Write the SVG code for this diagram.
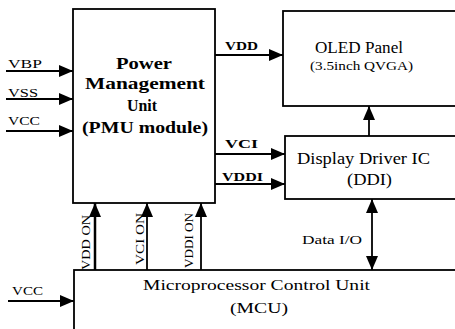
<svg xmlns="http://www.w3.org/2000/svg" width="455" height="329" viewBox="0 0 455 329">
<defs>
<marker id="ah" markerUnits="userSpaceOnUse" markerWidth="14" markerHeight="12" refX="14" refY="6" orient="auto-start-reverse">
<path d="M0,0 L14,6 L0,12 z" fill="#000"/>
</marker>
<style>
.box{fill:#fff;stroke:#000;stroke-width:1.8}
.ln{stroke:#000;stroke-width:1.8;fill:none}
.ar{stroke:#000;stroke-width:1.8;fill:none;marker-end:url(#ah)}
.t{font-family:"Liberation Serif","Times New Roman",serif;fill:#000}
.b{font-weight:bold}
</style>
</defs>
<rect width="455" height="329" fill="#fff"/>
<g id="pmu">
<rect class="box" x="73" y="9" width="142" height="194"/>
<text class="t b" x="144" y="69" font-size="17" text-anchor="middle" textLength="56" lengthAdjust="spacingAndGlyphs">Power</text>
<text class="t b" x="145" y="89" font-size="17" text-anchor="middle" textLength="120" lengthAdjust="spacingAndGlyphs">Management</text>
<text class="t b" x="142" y="111" font-size="17" text-anchor="middle" textLength="30" lengthAdjust="spacingAndGlyphs">Unit</text>
<text class="t b" x="145" y="133" font-size="17" text-anchor="middle" textLength="126" lengthAdjust="spacingAndGlyphs">(PMU module)</text>
</g>
<g id="oled">
<rect class="box" x="283" y="11" width="180" height="95"/>
<text class="t" x="315" y="53" font-size="16" textLength="88" lengthAdjust="spacingAndGlyphs">OLED Panel</text>
<text class="t" x="310" y="70" font-size="13" textLength="103" lengthAdjust="spacingAndGlyphs">(3.5inch QVGA)</text>
</g>
<g id="ddi">
<rect class="box" x="285" y="136" width="180" height="63"/>
<text class="t" x="297" y="164" font-size="16" textLength="133" lengthAdjust="spacingAndGlyphs">Display Driver IC</text>
<text class="t" x="347" y="185" font-size="16" textLength="45" lengthAdjust="spacingAndGlyphs">(DDI)</text>
</g>
<g id="mcu">
<rect class="box" x="74" y="270" width="400" height="80"/>
<text class="t" x="143" y="290" font-size="15" textLength="227" lengthAdjust="spacingAndGlyphs">Microprocessor Control Unit</text>
<text class="t" x="230" y="313" font-size="15" textLength="58" lengthAdjust="spacingAndGlyphs">(MCU)</text>
</g>
<g id="connectors">
<line class="ar" x1="6" y1="71" x2="73" y2="71"/>
<line class="ar" x1="6" y1="99" x2="73" y2="99"/>
<line class="ar" x1="6" y1="131" x2="73" y2="131"/>
<line class="ar" x1="8" y1="301" x2="74" y2="301"/>
<line class="ar" x1="215" y1="55" x2="283" y2="55"/>
<line class="ar" x1="215" y1="154" x2="285" y2="154"/>
<line class="ar" x1="215" y1="184" x2="285" y2="184"/>
<line class="ar" x1="369" y1="136" x2="369" y2="106"/>
<line class="ar" x1="372" y1="199" x2="372" y2="270" style="marker-start:url(#ah)"/>
<line class="ar" x1="95" y1="270" x2="95" y2="203" style="stroke-width:2.5"/>
<line class="ar" x1="147" y1="270" x2="147" y2="203"/>
<line class="ar" x1="201" y1="270" x2="201" y2="203"/>
</g>
<g id="labels">
<text class="t" x="8" y="68" font-size="13" textLength="34" lengthAdjust="spacingAndGlyphs">VBP</text>
<text class="t" x="8" y="97" font-size="13" textLength="30" lengthAdjust="spacingAndGlyphs">VSS</text>
<text class="t" x="8" y="125" font-size="13" textLength="32" lengthAdjust="spacingAndGlyphs">VCC</text>
<text class="t" x="12" y="295" font-size="13" textLength="31" lengthAdjust="spacingAndGlyphs">VCC</text>
<text class="t b" x="225" y="50" font-size="13" textLength="33" lengthAdjust="spacingAndGlyphs">VDD</text>
<text class="t b" x="225" y="148" font-size="13" textLength="33" lengthAdjust="spacingAndGlyphs">VCI</text>
<text class="t b" x="222" y="181" font-size="13" textLength="41" lengthAdjust="spacingAndGlyphs">VDDI</text>
<text class="t" x="302" y="244" font-size="13" textLength="60" lengthAdjust="spacingAndGlyphs">Data I/O</text>
<text class="t" transform="translate(90,270) rotate(-90)" font-size="12" textLength="55" lengthAdjust="spacingAndGlyphs">VDD ON</text>
<text class="t" transform="translate(144,265) rotate(-90)" font-size="12" textLength="52" lengthAdjust="spacingAndGlyphs">VCI ON</text>
<text class="t" transform="translate(193,268) rotate(-90)" font-size="12" textLength="55" lengthAdjust="spacingAndGlyphs">VDDI ON</text>
</g>
</svg>
